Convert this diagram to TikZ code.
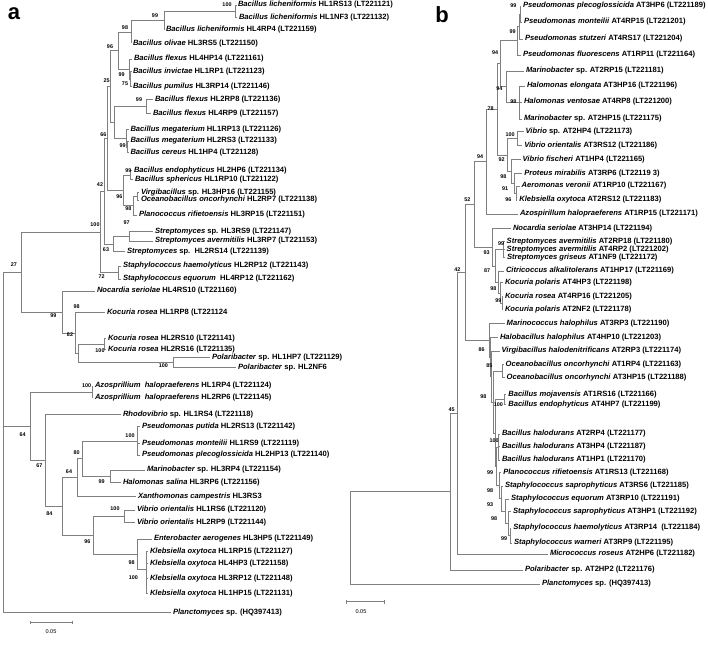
\documentclass[tikz,border=0pt]{standalone}
\usepackage{fontspec}
\setmainfont{Liberation Sans}
\usetikzlibrary{calc}
\tikzset{
 lf/.style={anchor=west, inner xsep=1.8pt, inner ysep=0pt, font=\fontsize{7.6}{8}\selectfont\bfseries},
 bsv/.style={inner sep=0pt, font=\fontsize{5.4}{6}\selectfont\bfseries},
 br/.style={draw=black!50, line width=0.5pt},
 panel/.style={inner sep=0pt, font=\fontsize{22}{24}\selectfont\bfseries},
 sclab/.style={inner sep=0pt, font=\fontsize{5.6}{6}\selectfont}
}
\newcommand\lf[4]{\node[lf] (#1) at (#2,#3) {#4};}
\newcommand\sn[1]{\textit{#1}}
\newcommand\inode[4]{\coordinate (#1m) at ($(#3)!0.5!(#4)$);\coordinate (#1) at (perpendicular cs: vertical line through={(#2,0)}, horizontal line through={(#1m)});}
\newcommand\ei[2]{\draw[br] (#1) |- (#2);}
\newcommand\el[2]{\draw[br] (#1) |- (#2.west);}
\newcommand\bv[4]{\node[bsv] (#1) at (#2,#3) {#4};}
\begin{document}
\begin{tikzpicture}[x=1pt,y=-1pt]
\fill[white] (0,0) rectangle (708,650);
\useasboundingbox (0,0) rectangle (708,650);
% ================= panel a : leaves =================
\node[panel] (pa) at (14,14) {a};
\lf{A1}{236}{5}{\sn{Bacillus licheniformis} HL1RS13 (LT221121)}
\lf{A2}{237}{17.3}{\sn{Bacillus licheniformis} HL1NF3 (LT221132)}
\lf{A3}{164}{30}{\sn{Bacillus licheniformis} HL4RP4 (LT221159)}
\lf{A4}{131}{43.3}{\sn{Bacillus olivae} HL3RS5 (LT221150)}
\lf{A5}{132}{59}{\sn{Bacillus flexus} HL4HP14 (LT221161)}
\lf{A6}{131}{71.7}{\sn{Bacillus invictae} HL1RP1 (LT221123)}
\lf{A7}{131}{86.7}{\sn{Bacillus pumilus} HL3RP14 (LT221146)}
\lf{A8}{153}{99.3}{\sn{Bacillus flexus} HL2RP8 (LT221136)}
\lf{A9}{151}{113.3}{\sn{Bacillus flexus} HL4RP9 (LT221157)}
\lf{A10}{128.5}{129.3}{\sn{Bacillus megaterium} HL1RP13 (LT221126)}
\lf{A11}{128.5}{141}{\sn{Bacillus megaterium} HL2RS3 (LT221133)}
\lf{A12}{128.5}{152.7}{\sn{Bacillus cereus} HL1HP4 (LT221128)}
\lf{A13}{132}{170.7}{\sn{Bacillus endophyticus} HL2HP6 (LT221134)}
\lf{A14}{133}{179.3}{\sn{Bacillus sphericus} HL1RP10 (LT221122)}
\lf{A15}{139}{192.3}{\sn{Virgibacillus} sp. HL3HP16 (LT221155)}
\lf{A16}{139}{200}{\sn{Oceanobacillus oncorhynchi} HL2RP7 (LT221138)}
\lf{A17}{137}{215}{\sn{Planococcus rifietoensis} HL3RP15 (LT221151)}
\lf{A18}{153}{231.7}{\sn{Streptomyces} sp. HL3RS9 (LT221147)}
\lf{A19}{153}{241}{\sn{Streptomyces avermitilis} HL3RP7 (LT221153)}
\lf{A20}{125}{251.7}{\sn{Streptomyces} sp.\ \ HL2RS14 (LT221139)}
\lf{A21}{121}{266}{\sn{Staphylococcus haemolyticus} HL2RP12 (LT221143)}
\lf{A22}{121}{279}{\sn{Staphylococcus equorum}\ \ HL4RP12 (LT221162)}
\lf{A23}{95}{291}{\sn{Nocardia seriolae} HL4RS10 (LT221160)}
\lf{A24}{105}{312.3}{\sn{Kocuria rosea} HL1RP8 (LT221124}
\lf{A25}{106}{338.3}{\sn{Kocuria rosea} HL2RS10 (LT221141)}
\lf{A26}{106}{349.3}{\sn{Kocuria rosea} HL2RS16 (LT221135)}
\lf{A27}{210}{357.7}{\sn{Polaribacter} sp. HL1HP7 (LT221129)}
\lf{A28}{236}{367.7}{\sn{Polaribacter} sp. HL2NF6}
\lf{A29}{93}{386}{\sn{Azosprillium\ \ halopraeferens} HL1RP4 (LT221124)}
\lf{A30}{93}{397.7}{\sn{Azosprillium\ \ halopraeferens} HL2RP6 (LT221145)}
\lf{A31}{121}{414.3}{\sn{Rhodovibrio} sp. HL1RS4 (LT221118)}
\lf{A32}{140}{426.7}{\sn{Pseudomonas putida} HL2RS13 (LT221142)}
\lf{A33}{140}{443.3}{\sn{Pseudomonas monteilii} HL1RS9 (LT221119)}
\lf{A34}{140}{455}{\sn{Pseudomonas plecoglossicida} HL2HP13 (LT221140)}
\lf{A35}{145}{470}{\sn{Marinobacter} sp. HL3RP4 (LT221154)}
\lf{A36}{121}{482.7}{\sn{Halomonas salina} HL3RP6 (LT221156)}
\lf{A37}{136}{496.7}{\sn{Xanthomonas campestris} HL3RS3}
\lf{A38}{135}{510}{\sn{Vibrio orientalis} HL1RS6 (LT221120)}
\lf{A39}{135}{522.7}{\sn{Vibrio orientalis} HL2RP9 (LT221144)}
\lf{A40}{152}{539}{\sn{Enterobacter aerogenes} HL3HP5 (LT221149)}
\lf{A41}{148}{551.7}{\sn{Klebsiella oxytoca} HL1RP15 (LT221127)}
\lf{A42}{148}{563.3}{\sn{Klebsiella oxytoca} HL4HP3 (LT221158)}
\lf{A43}{148}{578.3}{\sn{Klebsiella oxytoca} HL3RP12 (LT221148)}
\lf{A44}{148}{593.3}{\sn{Klebsiella oxytoca} HL1HP15 (LT221131)}
\lf{A45}{171}{612.7}{\sn{Planctomyces} sp. (HQ397413)}
% ================= panel a : inner nodes =================
\inode{aL12}{235.7}{A1}{A2}
\inode{aL123}{164}{aL12}{A3}
\inode{aL1234}{131}{aL123}{A4}
\inode{aIP}{130.5}{A6}{A7}
\inode{aFIP}{129.5}{A5}{aIP}
\inode{a96}{118}{aL1234}{aFIP}
\inode{aFl}{146}{A8}{A9}
\inode{aMC}{127.5}{A11}{A12}
\inode{aMeg}{126.5}{A10}{aMC}
\inode{aFM}{114}{aFl}{aMeg}
\inode{a25}{110}{a96}{aFM}
\inode{aES}{130.5}{A13}{A14}
\inode{aVO}{137}{A15}{A16}
\inode{aVOP}{133}{aVO}{A17}
\inode{a96b}{123}{aES}{aVOP}
\inode{a66}{107}{a25}{a96b}
\inode{aSt2}{129}{A18}{A19}
\inode{a63}{113}{aSt2}{A20}
\inode{a42}{104}{a66}{a63}
\inode{aStaph}{118}{A21}{A22}
\inode{a100}{100}{a42}{aStaph}
\inode{aKr}{104.5}{A25}{A26}
\inode{aPol}{173}{A27}{A28}
\inode{aK82}{78}{aKr}{aPol}
\inode{aK98}{75}{A24}{aK82}
\inode{a99}{62}{A23}{aK98}
\inode{a27}{21.7}{a100}{a99}
\inode{aAz}{92}{A29}{A30}
\inode{aPse}{137}{A32}{A34}
\inode{aMH}{110}{A35}{A36}
\inode{a80}{82}{aPse}{aMH}
\inode{a64b}{77}{a80}{A37}
\inode{aVib}{124}{A38}{A39}
\inode{aK1}{146.5}{A43}{A44}
\inode{aKleb}{146}{A41}{aK1}
\inode{aEK}{137}{A40}{aKleb}
\inode{a96c}{93}{aVib}{aEK}
\inode{a84}{62}{a64b}{a96c}
\inode{a67}{45}{A31}{a84}
\inode{a64}{30}{aAz}{a67}
\inode{aRoot}{3.5}{a27}{A45}
% ================= panel a : branches =================
\el{aL12}{A1}\el{aL12}{A2}
\ei{aL123}{aL12}\el{aL123}{A3}
\ei{aL1234}{aL123}\el{aL1234}{A4}
\el{aIP}{A6}\el{aIP}{A7}
\el{aFIP}{A5}\ei{aFIP}{aIP}
\ei{a96}{aL1234}\ei{a96}{aFIP}
\el{aFl}{A8}\el{aFl}{A9}
\el{aMC}{A11}\el{aMC}{A12}
\el{aMeg}{A10}\ei{aMeg}{aMC}
\ei{aFM}{aFl}\ei{aFM}{aMeg}
\ei{a25}{a96}\ei{a25}{aFM}
\el{aES}{A13}\el{aES}{A14}
\el{aVO}{A15}\el{aVO}{A16}
\ei{aVOP}{aVO}\el{aVOP}{A17}
\ei{a96b}{aES}\ei{a96b}{aVOP}
\ei{a66}{a25}\ei{a66}{a96b}
\el{aSt2}{A18}\el{aSt2}{A19}
\ei{a63}{aSt2}\el{a63}{A20}
\ei{a42}{a66}\ei{a42}{a63}
\el{aStaph}{A21}\el{aStaph}{A22}
\ei{a100}{a42}\ei{a100}{aStaph}
\el{aKr}{A25}\el{aKr}{A26}
\el{aPol}{A27}\el{aPol}{A28}
\ei{aK82}{aKr}\ei{aK82}{aPol}
\el{aK98}{A24}\ei{aK98}{aK82}
\el{a99}{A23}\ei{a99}{aK98}
\ei{a27}{a100}\ei{a27}{a99}
\el{aAz}{A29}\el{aAz}{A30}
\el{aPse}{A32}\el{aPse}{A33}\el{aPse}{A34}
\el{aMH}{A35}\el{aMH}{A36}
\ei{a80}{aPse}\ei{a80}{aMH}
\ei{a64b}{a80}\el{a64b}{A37}
\el{aVib}{A38}\el{aVib}{A39}
\el{aK1}{A43}\el{aK1}{A44}
\el{aKleb}{A41}\el{aKleb}{A42}\ei{aKleb}{aK1}
\el{aEK}{A40}\ei{aEK}{aKleb}
\ei{a96c}{aVib}\ei{a96c}{aEK}
\ei{a84}{a64b}\ei{a84}{a96c}
\el{a67}{A31}\ei{a67}{a84}
\ei{a64}{aAz}\ei{a64}{a67}
\ei{aRoot}{a27}\ei{aRoot}{a64}\el{aRoot}{A45}
% ================= panel a : bootstrap values =================
\bv{sa1}{227}{5}{100}
\bv{sa2}{155}{16}{99}
\bv{sa3}{125}{28}{98}
\bv{sa4}{110}{46.7}{96}
\bv{sa5}{121.7}{75}{99}
\bv{sa6}{125}{84}{75}
\bv{sa7}{106.7}{81}{25}
\bv{sa8}{139}{99.3}{99}
\bv{sa9}{103.3}{134.3}{66}
\bv{sa10}{122.7}{145.7}{99}
\bv{sa11}{128.3}{170.7}{99}
\bv{sa12}{100}{185}{42}
\bv{sa13}{119.3}{196.7}{96}
\bv{sa14}{128.3}{209}{98}
\bv{sa15}{126.7}{222.3}{97}
\bv{sa16}{95}{225}{100}
\bv{sa17}{106}{249.3}{63}
\bv{sa18}{101.7}{276.7}{72}
\bv{sa19}{14}{265}{27}
\bv{sa20}{76.7}{306.7}{98}
\bv{sa21}{53.3}{316}{99}
\bv{sa22}{70}{335}{82}
\bv{sa23}{100}{351}{100}
\bv{sa24}{163.3}{365.7}{100}
\bv{sa25}{86.7}{386}{100}
\bv{sa26}{22.7}{434.3}{64}
\bv{sa27}{130}{436}{100}
\bv{sa28}{76.7}{452.7}{80}
\bv{sa29}{39.3}{466}{67}
\bv{sa30}{69}{471.7}{64}
\bv{sa31}{101.7}{481.7}{99}
\bv{sa32}{49.3}{513.3}{84}
\bv{sa33}{115}{508.3}{100}
\bv{sa34}{87.3}{541.7}{96}
\bv{sa35}{131.7}{562.7}{98}
\bv{sa36}{133.3}{577.3}{100}
% scale bar a
\coordinate (sca1) at (30,622.3);
\coordinate (sca2) at (72,622.3);
\draw[br] (sca1) -- (sca2);
\draw[br] ($(sca1)+(0,-1.8)$) -- ($(sca1)+(0,1.8)$);
\draw[br] ($(sca2)+(0,-1.8)$) -- ($(sca2)+(0,1.8)$);
\node[sclab] (scal) at (51,632) {0.05};
% ================= panel b : leaves =================
\node[panel] (pb) at (442,15) {b};
\lf{B1}{521}{6}{\sn{Pseudomonas plecoglossicida} AT3HP6 (LT221189)}
\lf{B2}{522}{22}{\sn{Pseudomonas monteilii} AT4RP15 (LT221201)}
\lf{B3}{523}{39}{\sn{Pseudomonas stutzeri} AT4RS17 (LT221204)}
\lf{B4}{521}{55}{\sn{Pseudomonas fluorescens} AT1RP11 (LT221164)}
\lf{B5}{524}{71}{\sn{Marinobacter} sp. AT2RP15 (LT221181)}
\lf{B6}{525}{86}{\sn{Halomonas elongata} AT3HP16 (LT221196)}
\lf{B7}{522}{102}{\sn{Halomonas ventosae} AT4RP8 (LT221200)}
\lf{B8}{522}{119}{\sn{Marinobacter} sp. AT2HP15 (LT221175)}
\lf{B9}{523.7}{131.7}{\sn{Vibrio} sp. AT2HP4 (LT221173)}
\lf{B10}{522.3}{145.7}{\sn{Vibrio orientalis} AT3RS12 (LT221186)}
\lf{B11}{520.7}{159.3}{\sn{Vibrio fischeri} AT1HP4 (LT221165)}
\lf{B12}{522.3}{173.3}{\sn{Proteus mirabilis} AT3RP6 (LT22119 3)}
\lf{B13}{519.7}{186}{\sn{Aeromonas veronii} AT1RP10 (LT221167)}
\lf{B14}{517.3}{200}{\sn{Klebsiella oxytoca} AT2RS12 (LT221183)}
\lf{B15}{518}{214}{\sn{Azospirillum halopraeferens} AT1RP15 (LT221171)}
\lf{B16}{511}{228.3}{\sn{Nocardia seriolae} AT3HP14 (LT221194)}
\lf{B17}{504.7}{241.7}{\sn{Streptomyces avermitilis} AT2RP18 (LT221180)}
\lf{B18}{504.7}{249.3}{\sn{Streptomyces avermitilis} AT4RP2 (LT221202)}
\lf{B19}{505}{257.7}{\sn{Streptomyces griseus} AT1NF9 (LT221172)}
\lf{B20}{504}{271}{\sn{Citricoccus alkalitolerans} AT1HP17 (LT221169)}
\lf{B21}{503}{282.7}{\sn{Kocuria polaris} AT4HP3 (LT221198)}
\lf{B22}{503}{296.7}{\sn{Kocuria rosea} AT4RP16 (LT221205)}
\lf{B23}{503}{309.3}{\sn{Kocuria polaris} AT2NF2 (LT221178)}
\lf{B24}{504.7}{323.3}{\sn{Marinococcus halophilus} AT3RP3 (LT221190)}
\lf{B25}{498}{337.7}{\sn{Halobacillus halophilus} AT4HP10 (LT221203)}
\lf{B26}{499.7}{351}{\sn{Virgibacillus halodenitrificans} AT2RP3 (LT221174)}
\lf{B27}{503.7}{364.3}{\sn{Oceanobacillus oncorhynchi} AT1RP4 (LT221163)}
\lf{B28}{504.7}{377.7}{\sn{Oceanobacillus oncorhynchi} AT3HP15 (LT221188)}
\lf{B29}{506.3}{394.3}{\sn{Bacillus mojavensis} AT1RS16 (LT221166)}
\lf{B30}{506.3}{404.3}{\sn{Bacillus endophyticus} AT4HP7 (LT221199)}
\lf{B31}{500}{434}{\sn{Bacillus halodurans} AT2RP4 (LT221177)}
\lf{B32}{500}{446.7}{\sn{Bacillus halodurans} AT3HP4 (LT221187)}
\lf{B33}{500}{460}{\sn{Bacillus halodurans} AT1HP1 (LT221170)}
\lf{B34}{501.3}{472.7}{\sn{Planococcus rifietoensis} AT1RS13 (LT221168)}
\lf{B35}{503}{486}{\sn{Staphylococcus saprophyticus} AT3RS6 (LT221185)}
\lf{B36}{509}{499}{\sn{Staphylococcus equorum} AT3RP10 (LT221191)}
\lf{B37}{511}{511.7}{\sn{Staphylococcus saprophyticus} AT3HP1 (LT221192)}
\lf{B38}{511.3}{528}{\sn{Staphylococcus haemolyticus} AT3RP14\ \ (LT221184)}
\lf{B39}{512}{543}{\sn{Staphylococcus warneri} AT3RP9 (LT221195)}
\lf{B40}{548}{554}{\sn{Micrococcus roseus} AT2HP6 (LT221182)}
\lf{B41}{523}{570}{\sn{Polaribacter} sp. AT2HP2 (LT221176)}
\lf{B42}{540}{584}{\sn{Planctomyces} sp. (HQ397413)}
% ================= panel b : inner nodes =================
\inode{bP12}{520}{B1}{B2}
\inode{bP123}{519}{bP12}{B3}
\inode{bP}{517}{bP123}{B4}
\inode{bH}{519}{B6}{B8}
\inode{bMH}{506}{B5}{bH}
\inode{b94a}{500}{bP}{bMH}
\inode{bV}{517}{B9}{B10}
\inode{bKA}{516}{B13}{B14}
\inode{bPKA}{514}{B12}{bKA}
\inode{bE3}{511}{B11}{bPKA}
\inode{bVE}{507}{bV}{bE3}
\inode{b78}{497}{b94a}{bVE}
\inode{b94b}{486}{b78}{B15}
\inode{bStrep}{503.5}{B17}{B19}
\inode{bKr}{502}{B22}{B23}
\inode{bK}{500}{B21}{bKr}
\inode{bCK}{498}{B20}{bK}
\inode{bSK}{495}{bStrep}{bCK}
\inode{bAct}{492}{B16}{bSK}
\inode{b52}{474}{b94b}{bAct}
\inode{bOce}{502}{B27}{B28}
\inode{bBac}{504}{B29}{B30}
\inode{bHal}{498}{B31}{B33}
\inode{bSA}{510}{B38}{B39}
\inode{bSB}{508}{B37}{bSA}
\inode{bSC}{505}{B36}{bSB}
\inode{bSD}{501}{B35}{bSC}
\inode{bPS}{499}{B34}{bSD}
\inode{bHPS}{496.5}{bHal}{bPS}
\inode{bBHPS}{495}{bBac}{bHPS}
\inode{bOB}{493}{bOce}{bBHPS}
\inode{bVg}{491.5}{B26}{bOB}
\inode{bHV}{490.5}{B25}{bVg}
\inode{bF}{489}{B24}{bHV}
\inode{b42}{465}{b52}{bF}
\inode{b45}{457}{b42}{B40}
\inode{b450}{450}{b45}{B41}
\inode{bRoot}{350}{b450}{B42}
% ================= panel b : branches =================
\el{bP12}{B1}\el{bP12}{B2}
\ei{bP123}{bP12}\el{bP123}{B3}
\ei{bP}{bP123}\el{bP}{B4}
\el{bH}{B6}\el{bH}{B7}\el{bH}{B8}
\el{bMH}{B5}\ei{bMH}{bH}
\ei{b94a}{bP}\ei{b94a}{bMH}
\el{bV}{B9}\el{bV}{B10}
\el{bKA}{B13}\el{bKA}{B14}
\el{bPKA}{B12}\ei{bPKA}{bKA}
\el{bE3}{B11}\ei{bE3}{bPKA}
\ei{bVE}{bV}\ei{bVE}{bE3}
\ei{b78}{b94a}\ei{b78}{bVE}
\ei{b94b}{b78}\el{b94b}{B15}
\el{bStrep}{B17}\el{bStrep}{B18}\el{bStrep}{B19}
\el{bKr}{B22}\el{bKr}{B23}
\el{bK}{B21}\ei{bK}{bKr}
\el{bCK}{B20}\ei{bCK}{bK}
\ei{bSK}{bStrep}\ei{bSK}{bCK}
\el{bAct}{B16}\ei{bAct}{bSK}
\ei{b52}{b94b}\ei{b52}{bAct}
\el{bOce}{B27}\el{bOce}{B28}
\el{bBac}{B29}\el{bBac}{B30}
\el{bHal}{B31}\el{bHal}{B32}\el{bHal}{B33}
\el{bSA}{B38}\el{bSA}{B39}
\el{bSB}{B37}\ei{bSB}{bSA}
\el{bSC}{B36}\ei{bSC}{bSB}
\el{bSD}{B35}\ei{bSD}{bSC}
\el{bPS}{B34}\ei{bPS}{bSD}
\ei{bHPS}{bHal}\ei{bHPS}{bPS}
\ei{bBHPS}{bBac}\ei{bBHPS}{bHPS}
\ei{bOB}{bOce}\ei{bOB}{bBHPS}
\el{bVg}{B26}\ei{bVg}{bOB}
\el{bHV}{B25}\ei{bHV}{bVg}
\el{bF}{B24}\ei{bF}{bHV}
\ei{b42}{b52}\ei{b42}{bF}
\ei{b45}{b42}\el{b45}{B40}
\ei{b450}{b45}\el{b450}{B41}
\ei{bRoot}{b450}\el{bRoot}{B42}
% ================= panel b : bootstrap values =================
\bv{sb1}{513.3}{6}{99}
\bv{sb2}{512.7}{32}{99}
\bv{sb3}{495}{53}{94}
\bv{sb4}{499.3}{89}{94}
\bv{sb5}{513.3}{102}{98}
\bv{sb6}{490.5}{109}{78}
\bv{sb7}{510}{135}{100}
\bv{sb8}{480}{156.7}{94}
\bv{sb9}{501.7}{159.3}{92}
\bv{sb10}{503.3}{176.7}{98}
\bv{sb11}{505}{188.3}{91}
\bv{sb12}{508.3}{199.3}{96}
\bv{sb13}{467.3}{199.3}{52}
\bv{sb14}{501}{243.5}{99}
\bv{sb15}{486.7}{252.7}{93}
\bv{sb16}{457.3}{269.3}{42}
\bv{sb17}{487}{271}{87}
\bv{sb18}{493.3}{288.3}{98}
\bv{sb19}{498.3}{300.7}{99}
\bv{sb20}{481.7}{350}{86}
\bv{sb21}{489.3}{365.7}{85}
\bv{sb22}{483.3}{396.7}{98}
\bv{sb23}{498.3}{404.3}{100}
\bv{sb24}{451.7}{410}{45}
\bv{sb25}{494}{441}{100}
\bv{sb26}{490}{472.7}{99}
\bv{sb27}{490}{491}{98}
\bv{sb28}{490}{504.3}{93}
\bv{sb29}{494}{518.3}{98}
\bv{sb30}{504}{539}{99}
% scale bar b
\coordinate (scb1) at (346,601.7);
\coordinate (scb2) at (384,601.7);
\draw[br] (scb1) -- (scb2);
\draw[br] ($(scb1)+(0,-1.8)$) -- ($(scb1)+(0,1.8)$);
\draw[br] ($(scb2)+(0,-1.8)$) -- ($(scb2)+(0,1.8)$);
\node[sclab] (scbl) at (361,611.7) {0.05};
\end{tikzpicture}
\end{document}
